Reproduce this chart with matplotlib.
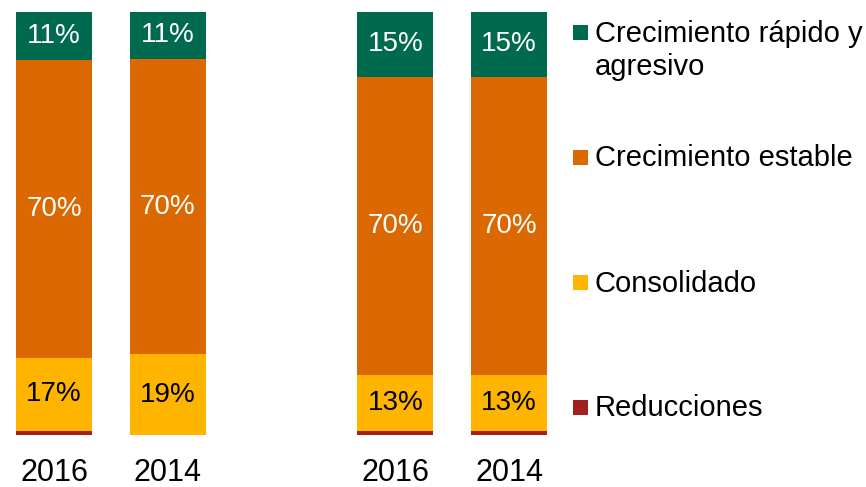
import matplotlib
matplotlib.use("Agg")
import matplotlib.pyplot as plt
from matplotlib.patches import Rectangle

plt.rcParams["font.family"] = ["Liberation Sans", "DejaVu Sans"]

# stacked shares per bar, bottom to top
years = ["2016", "2014", "2016", "2014"]
positions = [0, 1, 3, 4]
reducciones = [1.0, 0.0, 1.0, 1.0]
consolidado = [17.3, 19.1, 13.3, 13.3]
estable = [70.4, 69.8, 70.4, 70.4]
rapido = [11.3, 11.1, 15.3, 15.3]

series_names = ["Reducciones", "Consolidado", "Crecimiento estable", "Crecimiento rápido y\nagresivo"]
series_values = [reducciones, consolidado, estable, rapido]
colors = ["#A32020", "#FFB500", "#DB6800", "#006A4E"]
text_colors = [None, "black", "white", "white"]

W, H = 866, 487
fig = plt.figure(figsize=(W / 100, H / 100), dpi=100)

ax = fig.add_axes([0, 52 / H, 570 / W, 423 / H])
unit = 113.8
ax.set_xlim(-54 / unit, (570 - 54) / unit)
ax.set_ylim(0, 100)
ax.axis("off")

bottoms = [0.0] * len(positions)
for values, color, tcolor in zip(series_values, colors, text_colors):
	ax.bar(positions, values, width=0.667, bottom=bottoms, color=color, edgecolor="none")
	if tcolor is not None:
		for x, b, v in zip(positions, bottoms, values):
			if v > 0:
				ax.text(x, b + v / 2, f"{v:.0f}%", ha="center", va="center", fontsize=20, color=tcolor)
	bottoms = [b + v for b, v in zip(bottoms, values)]

for x, year in zip(positions, years):
	ax.text(x, -8.9, year, ha="center", va="center", fontsize=22, color="black")

# legend drawn by hand in pixel space, top entry first
leg = fig.add_axes([0, 0, 1, 1])
leg.set_xlim(0, W)
leg.set_ylim(H, 0)
leg.axis("off")
entry_y = [32.5, 157.5, 282.5, 407.5]
for y, name, color in zip(entry_y, series_names[::-1], colors[::-1]):
	leg.add_patch(Rectangle((573, y - 7.5), 15, 15, facecolor=color, edgecolor="none"))
	for i, line in enumerate(name.split("\n")):
		leg.text(595, y + 9 + i * 33.3, line, ha="left", va="baseline", fontsize=21, color="black")

fig.savefig("out.png", dpi=100)
